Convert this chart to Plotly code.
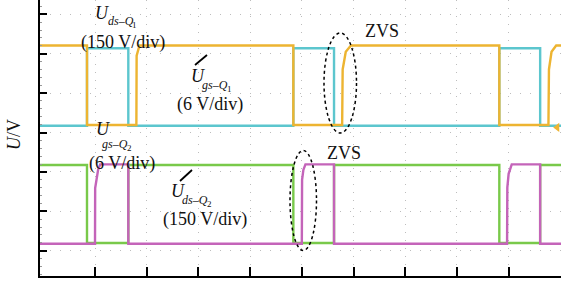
import plotly.graph_objects as go

# ---------------- data (time in divisions, level in divisions) ----------------
t_uds_q1 = [-0.1, 0.845, 0.845, 1.80, 1.805, 1.86, 4.836, 4.836, 5.78, 5.79, 5.85, 5.95,
            8.82, 8.82, 9.77, 9.78, 9.83, 9.92, 10.1]
v_uds_q1 = [5.21, 5.21, 3.19, 3.19, 4.95, 5.21, 5.21, 3.19, 3.19, 4.6, 5.05, 5.21,
            5.21, 3.19, 3.19, 4.6, 5.05, 5.21, 5.21]

t_ugs_q1 = [-0.1, 0.845, 1.644, 4.836, 5.623, 8.82, 9.61, 10.1]
v_ugs_q1 = [3.17, 5.14, 3.17, 5.14, 3.17, 5.14, 3.17, 3.17]

t_ugs_q2 = [-0.1, 0.845, 1.644, 4.836, 5.623, 8.82, 9.61, 10.1]
v_ugs_q2 = [2.175, 0.195, 2.175, 0.195, 2.175, 0.195, 2.175, 2.175]

t_uds_q2 = [-0.1, 1.0, 1.003, 1.03, 1.06, 1.10, 1.644, 1.644, 5.0, 5.005, 5.03, 5.07,
            5.623, 5.623, 8.97, 8.975, 9.0, 9.06, 9.61, 9.61, 10.1]
v_uds_q2 = [0.178, 0.178, 1.59, 1.84, 2.05, 2.19, 2.19, 0.178, 0.178, 1.8, 2.05, 2.19,
            2.19, 0.178, 0.178, 1.6, 1.95, 2.19, 2.19, 0.178, 0.178]

ch1_marker_t = [9.94]
ch1_marker_v = [3.13]

x_ticks = [1, 2, 3, 4, 5, 6, 7, 8, 9, 10]
y_ticks = [0, 1, 2, 3, 4, 5, 6]

# ---------------- colours ----------------
C_Y = "#EDB431"
C_C = "#5CC6CE"
C_G = "#79C94A"
C_M = "#C464B9"

# ---------------- geometry helpers (pixel -> data for labels) ----------------
W, H = 561, 281
ML, MR, MT, MB = 40, 0, 0, 5
X_RANGE = [-0.064, 10.013]
Y_RANGE = [-0.642, 6.363]


def px2x(px):
    return X_RANGE[0] + (px - ML) / (W - ML - MR) * (X_RANGE[1] - X_RANGE[0])


def px2y(py):
    return Y_RANGE[1] - (py - MT) / (H - MT - MB) * (Y_RANGE[1] - Y_RANGE[0])


fig = go.Figure()
fig.add_trace(go.Scatter(x=t_ugs_q1, y=v_ugs_q1, mode="lines", line_shape="hv",
                         line=dict(color=C_C, width=2.4), hoverinfo="skip"))
fig.add_trace(go.Scatter(x=t_uds_q1, y=v_uds_q1, mode="lines",
                         line=dict(color=C_Y, width=2.4), hoverinfo="skip"))
fig.add_trace(go.Scatter(x=t_ugs_q2, y=v_ugs_q2, mode="lines", line_shape="hv",
                         line=dict(color=C_G, width=2.4), hoverinfo="skip"))
fig.add_trace(go.Scatter(x=t_uds_q2, y=v_uds_q2, mode="lines",
                         line=dict(color=C_M, width=2.4), hoverinfo="skip"))
fig.add_trace(go.Scatter(x=ch1_marker_t, y=ch1_marker_v, mode="markers",
                         marker=dict(symbol="triangle-left", size=8, color=C_Y),
                         hoverinfo="skip"))

SERIF = "Liberation Serif, Times New Roman, serif"
ann = []


def label(text, px, py, size, italic=False):
    t = f"<i>{text}</i>" if italic else text
    ann.append(dict(x=px2x(px), y=px2y(py), xref="x", yref="y", text=t, showarrow=False,
                    xanchor="left", yanchor="middle",
                    font=dict(family=SERIF, size=size, color="#111")))


# U_ds-Q1
label("U", 93, 13, 18, True)
label("ds\u2013Q", 106, 21, 12, True)
label("1", 130, 25, 9)
label("(150 V/div)", 79, 42, 18)
# U_gs-Q1
label("U", 189, 76, 18, True)
label("gs\u2013Q", 200, 85, 12, True)
label("1", 224.5, 89, 9)
label("(6 V/div)", 175, 104, 18)
label("ZVS", 363, 31, 18)
# U_gs-Q2
label("U", 94, 129, 18, True)
label("gs\u2013Q", 100, 144, 12, True)
label("2", 124.5, 148, 9)
label("(6 V/div)", 87, 163, 18)
# U_ds-Q2
label("U", 169, 191, 18, True)
label("ds\u2013Q", 180, 200, 12, True)
label("2", 204.5, 204, 9)
label("(150 V/div)", 161, 219, 18)
label("ZVS", 325, 153, 18)

# y-axis title
ann.append(dict(x=0, xref="paper", xshift=-26, y=px2y(135), yref="y", text="<i>U</i>/V",
                textangle=-90, showarrow=False, xanchor="center", yanchor="middle",
                font=dict(family=SERIF, size=18, color="#111")))

shapes = [
    dict(type="circle", xref="x", yref="y", x0=px2x(324), x1=px2x(356.5),
         y0=px2y(33), y1=px2y(133), line=dict(color="black", width=1.5, dash="dot")),
    dict(type="circle", xref="x", yref="y", x0=px2x(290), x1=px2x(316.5),
         y0=px2y(150.5), y1=px2y(250.5), line=dict(color="black", width=1.5, dash="dot")),
    dict(type="line", xref="x", yref="y", x0=px2x(195), y0=px2y(65), x1=px2x(207),
         y1=px2y(55), line=dict(color="black", width=1.8)),
    dict(type="line", xref="x", yref="y", x0=px2x(180), y0=px2y(181), x1=px2x(192),
         y1=px2y(170), line=dict(color="black", width=1.8)),
]

fig.update_layout(
    width=W, height=H,
    margin=dict(l=ML, r=MR, t=MT, b=MB),
    paper_bgcolor="white", plot_bgcolor="white",
    showlegend=False,
    annotations=ann, shapes=shapes,
    xaxis=dict(range=X_RANGE, showline=True, linecolor="black", linewidth=2,
               tickmode="array", tickvals=x_ticks, ticks="inside", ticklen=9,
               tickwidth=2, tickcolor="black", showticklabels=False, zeroline=False,
               showgrid=True, gridcolor="#bdbdbd", gridwidth=1, griddash="1px,7px"),
    yaxis=dict(range=Y_RANGE, showline=True, linecolor="black", linewidth=2,
               tickmode="array", tickvals=y_ticks, ticks="inside", ticklen=7,
               tickwidth=2, tickcolor="black", showticklabels=False, zeroline=False,
               showgrid=True, gridcolor="#bdbdbd", gridwidth=1, griddash="1px,9px",
               minor=dict(ticks="inside", ticklen=2, tickwidth=1, tickcolor="#999",
                          dtick=0.2, tick0=0, showgrid=False)),
)

fig.write_html("out.html", config={"displayModeBar": False},
               post_script="document.body.style.margin='0';document.body.style.padding='0';")
